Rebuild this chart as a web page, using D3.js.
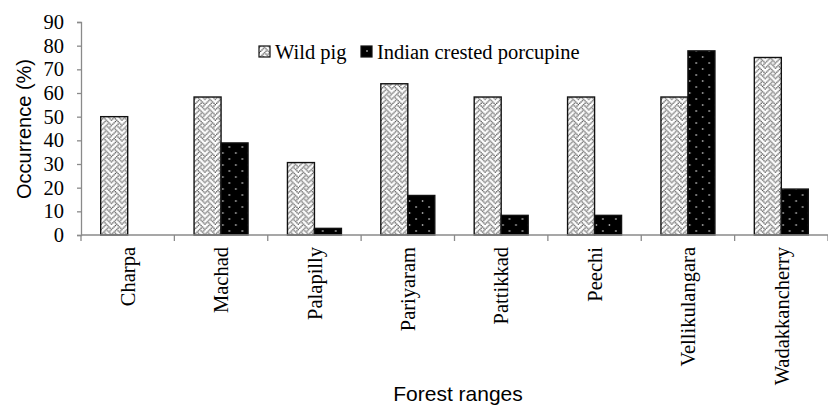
<!doctype html>
<html>

<head>
    <meta charset="utf-8">
    <title>Occurrence by forest range</title>
    <script type="text/javascript" src="https://cdn.jsdelivr.net/npm/d3@7/dist/d3.min.js"></script>
    <style type="text/css">
        html,
        body {
            margin: 0;
            padding: 0;
            background: #fff;
        }

        #chart svg {
            display: block;
        }
    </style>
</head>

<body>
    <div id="chart"></div>

    <script type="text/javascript">
        // data
        var ranges = ["Charpa", "Machad", "Palapilly", "Pariyaram", "Pattikkad", "Peechi", "Vellikulangara", "Wadakkancherry"]
        var wildPig = [50, 58.3, 30.6, 63.9, 58.3, 58.3, 58.3, 75]
        var porcupine = [0, 38.9, 2.8, 16.7, 8.3, 8.3, 77.8, 19.4]
        var seriesNames = ["Wild pig", "Indian crested porcupine"]
        var yTicks = [0, 10, 20, 30, 40, 50, 60, 70, 80, 90]

        // 8x8 "weave" hatch bitmap, one byte per row
        var weaveRows = [0x11, 0x2a, 0x44, 0xa2, 0x11, 0x28, 0x44, 0x8a]

        var width = 828,
            height = 407
        var margin = { top: 22, right: 0, bottom: 172, left: 81 }
        var serif = "'Liberation Serif', 'Times New Roman', serif"
        var sans = "'Liberation Sans', Arial, sans-serif"

        var svg = d3.select("#chart")
            .append("svg")
            .attr("width", width)
            .attr("height", height)

        // fill patterns (the original is a b/w print)
        var defs = svg.append("defs")

        var cell = 1.3
        var weave = defs.append("pattern")
            .attr("id", "weave")
            .attr("patternUnits", "userSpaceOnUse")
            .attr("width", 8 * cell)
            .attr("height", 8 * cell)
        weave.append("rect")
            .attr("width", 8 * cell).attr("height", 8 * cell)
            .style("fill", "#fff")
        weaveRows.forEach(function (bits, r) {
            for (var c = 0; c < 8; c++) {
                if (bits & (0x80 >> c)) {
                    weave.append("rect")
                        .attr("x", c * cell).attr("y", r * cell)
                        .attr("width", cell).attr("height", cell)
                        .style("fill", "#555")
                }
            }
        })

        var dots = defs.append("pattern")
            .attr("id", "dots")
            .attr("patternUnits", "userSpaceOnUse")
            .attr("width", 13)
            .attr("height", 12)
        dots.append("rect")
            .attr("width", 13).attr("height", 12)
            .style("fill", "#000")
        dots.append("circle")
            .attr("cx", 3).attr("cy", 3).attr("r", 0.8)
            .style("fill", "#fff")
        dots.append("circle")
            .attr("cx", 9.5).attr("cy", 9).attr("r", 0.8)
            .style("fill", "#fff")

        var fills = ["url(#weave)", "url(#dots)"]

        var x = d3.scaleBand()
            .domain(ranges)
            .range([margin.left, width - margin.right])
            .paddingInner(0)
            .paddingOuter(0)

        var x1 = d3.scaleBand()
            .domain([0, 1])
            .range([0, x.bandwidth()])
            .paddingInner(0)
            .paddingOuter(0.73)

        var y = d3.scaleLinear()
            .domain([0, 90])
            .range([height - margin.bottom, margin.top])

        var rows = ranges.map(function (r, i) {
            return { range: r, values: [wildPig[i], porcupine[i]] }
        })

        // bars
        var groups = svg.append("g")
            .selectAll("g")
            .data(rows)
            .enter()
            .append("g")
            .attr("transform", function (d) { return "translate(" + x(d.range) + ",0)" })

        groups.selectAll("rect")
            .data(function (d) { return d.values.map(function (v, k) { return { k: k, v: v } }) })
            .enter()
            .filter(function (d) { return d.v > 0 })
            .append("rect")
            .attr("x", function (d) { return x1(d.k) })
            .attr("y", function (d) { return y(d.v) })
            .attr("width", x1.bandwidth())
            .attr("height", function (d) { return y(0) - y(d.v) })
            .style("fill", function (d) { return fills[d.k] })
            .style("stroke", "#111")
            .style("stroke-width", 1.4)

        // y axis
        var yAxis = svg.append("g")
            .attr("transform", "translate(" + margin.left + ",0)")
            .call(d3.axisLeft(y).tickValues(yTicks).tickSize(4).tickPadding(13))
        yAxis.attr("font-family", serif).attr("font-size", 20.5)
        yAxis.selectAll("path, line").style("stroke", "#8a8a8a").style("stroke-width", 1.3)
        yAxis.selectAll("text")
            .style("font-family", serif)
            .style("font-size", "20.5px")
            .style("fill", "#000")

        // x axis: ticks between categories, pointing down
        var xAxis = svg.append("g")
            .attr("transform", "translate(0," + y(0) + ")")
        xAxis.append("line")
            .attr("x1", margin.left).attr("x2", width - margin.right)
            .style("stroke", "#8a8a8a").style("stroke-width", 1.3)
        xAxis.selectAll(".sep")
            .data(ranges.concat(["end"]))
            .enter()
            .append("line")
            .attr("class", "sep")
            .attr("x1", function (d, i) { return margin.left + i * x.step() })
            .attr("x2", function (d, i) { return margin.left + i * x.step() })
            .attr("y1", 0).attr("y2", 6)
            .style("stroke", "#8a8a8a").style("stroke-width", 1.3)
        xAxis.selectAll(".lbl")
            .data(ranges)
            .enter()
            .append("text")
            .attr("class", "lbl")
            .attr("transform", function (d) {
                return "translate(" + (x(d) + x.bandwidth() / 2) + ",12) rotate(-90)"
            })
            .attr("dy", "0.35em")
            .attr("text-anchor", "end")
            .style("font-family", serif)
            .style("font-size", "20.5px")
            .text(function (d) { return d })

        // axis titles
        svg.append("text")
            .attr("transform", "translate(31,129) rotate(-90)")
            .attr("text-anchor", "middle")
            .style("font-family", sans)
            .style("font-size", "20px")
            .text("Occurrence (%)")

        svg.append("text")
            .attr("x", 458)
            .attr("y", 401)
            .attr("text-anchor", "middle")
            .style("font-family", sans)
            .style("font-size", "21px")
            .text("Forest ranges")

        // legend
        var legend = svg.append("g")
        var legendX = [259, 361]
        seriesNames.forEach(function (name, k) {
            legend.append("rect")
                .attr("x", legendX[k]).attr("y", 46)
                .attr("width", 11).attr("height", 11)
                .style("fill", fills[k])
                .style("stroke", "#111")
                .style("stroke-width", 1.2)
            legend.append("text")
                .attr("x", legendX[k] + 16).attr("y", 51.5)
                .attr("dy", "0.35em")
                .style("font-family", serif)
                .style("font-size", "20.5px")
                .text(name)
        })
    </script>
</body>

</html>
